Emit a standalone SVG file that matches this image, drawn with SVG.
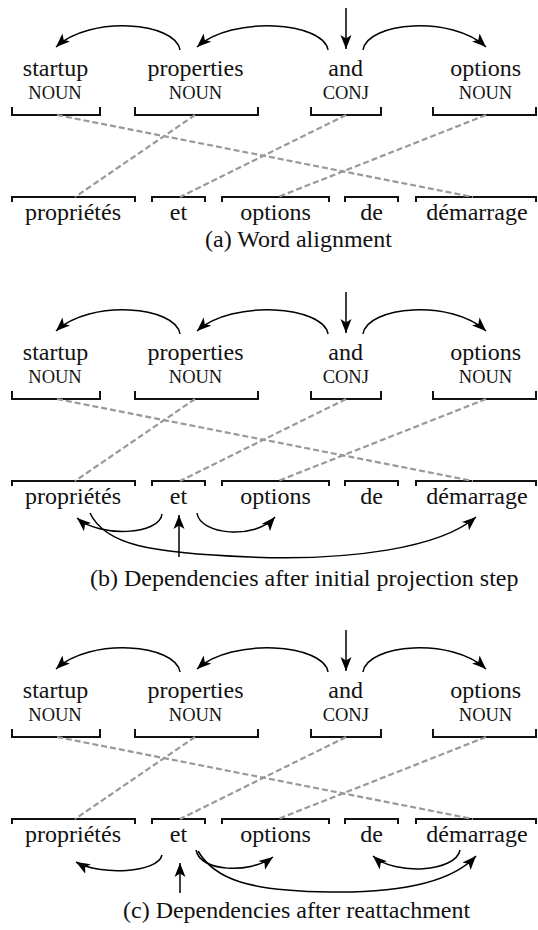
<svg xmlns="http://www.w3.org/2000/svg" width="538" height="930" viewBox="0 0 538 930" font-family="'Liberation Serif', 'Times New Roman', Times, 'DejaVu Serif', serif">
<style>
.w{font-family:'Liberation Serif','Times New Roman',Times,'DejaVu Serif',serif;font-size:24px;text-anchor:middle;fill:#111}
.t{font-size:18.5px}
.cap{font-family:'Liberation Serif','Times New Roman',Times,'DejaVu Serif',serif;font-size:24px;fill:#111}
.br{fill:none;stroke:#111;stroke-width:2}
.al{fill:none;stroke:#999;stroke-width:2.2;stroke-dasharray:6 3}
.dep{fill:none;stroke:#000;stroke-width:1.5;marker-end:url(#ah)}
</style>
<defs>
<marker id="ah" markerWidth="16" markerHeight="12" refX="14" refY="6" orient="auto" markerUnits="userSpaceOnUse">
<path d="M0,0.5 L14,6 L0,11.5 L3.5,6 z" fill="#000"/>
</marker>
</defs>

<g id="panel-a">
<g id="a-startup"><text class="w" x="55.5" y="76">startup</text><text class="w t" x="55" y="99">NOUN</text><path class="br" d="M12,107 V115 H100 V107"/></g>
<g id="a-properties"><text class="w" x="195.5" y="76">properties</text><text class="w t" x="195.5" y="99">NOUN</text><path class="br" d="M135,107 V115 H258 V107"/></g>
<g id="a-and"><text class="w" x="345.7" y="76">and</text><text class="w t" x="345.8" y="99">CONJ</text><path class="br" d="M311,107 V115 H381 V107"/></g>
<g id="a-options-en"><text class="w" x="485.7" y="76">options</text><text class="w t" x="485.5" y="99">NOUN</text><path class="br" d="M433,107 V115 H536 V107"/></g>
<g id="a-proprietes"><path class="br" d="M12,202 V197 H135 V202"/><text class="w" x="73" y="220">propriétés</text></g>
<g id="a-et"><path class="br" d="M152,202 V197 H205 V202"/><text class="w" x="178.5" y="220">et</text></g>
<g id="a-options-fr"><path class="br" d="M222,202 V197 H329 V202"/><text class="w" x="275.5" y="220">options</text></g>
<g id="a-de"><path class="br" d="M345,202 V197 H398 V202"/><text class="w" x="371.5" y="220">de</text></g>
<g id="a-demarrage"><path class="br" d="M416,202 V197 H536 V202"/><text class="w" x="477" y="220">démarrage</text></g>
<g id="a-connectors">
<path class="dep" d="M180,50 C176,22 90,15 56,47"/>
<path class="dep" d="M328,50 C324,22 232,15 197,47"/>
<path class="dep" d="M363,50 C367,22 452,15 486,47"/>
<path class="dep" d="M346,8 V49"/>
<path class="al" d="M57,115 L473,197"/>
<path class="al" d="M195,115 L75,197"/>
<path class="al" d="M346,115 L180,197"/>
<path class="al" d="M486,115 L278,197"/>
</g>
<text class="cap" x="205" y="247">(a) Word alignment</text>
</g>

<g id="panel-b">
<g transform="translate(0,284)">
<g id="b-startup"><text class="w" x="55.5" y="76">startup</text><text class="w t" x="55" y="99">NOUN</text><path class="br" d="M12,107 V115 H100 V107"/></g>
<g id="b-properties"><text class="w" x="195.5" y="76">properties</text><text class="w t" x="195.5" y="99">NOUN</text><path class="br" d="M135,107 V115 H258 V107"/></g>
<g id="b-and"><text class="w" x="345.7" y="76">and</text><text class="w t" x="345.8" y="99">CONJ</text><path class="br" d="M311,107 V115 H381 V107"/></g>
<g id="b-options-en"><text class="w" x="485.7" y="76">options</text><text class="w t" x="485.5" y="99">NOUN</text><path class="br" d="M433,107 V115 H536 V107"/></g>
<g id="b-proprietes"><path class="br" d="M12,202 V197 H135 V202"/><text class="w" x="73" y="220">propriétés</text></g>
<g id="b-et"><path class="br" d="M152,202 V197 H205 V202"/><text class="w" x="178.5" y="220">et</text></g>
<g id="b-options-fr"><path class="br" d="M222,202 V197 H329 V202"/><text class="w" x="275.5" y="220">options</text></g>
<g id="b-de"><path class="br" d="M345,202 V197 H398 V202"/><text class="w" x="371.5" y="220">de</text></g>
<g id="b-demarrage"><path class="br" d="M416,202 V197 H536 V202"/><text class="w" x="477" y="220">démarrage</text></g>
<g id="b-connectors-top">
<path class="dep" d="M180,50 C176,22 90,15 56,47"/>
<path class="dep" d="M328,50 C324,22 232,15 197,47"/>
<path class="dep" d="M363,50 C367,22 452,15 486,47"/>
<path class="dep" d="M346,8 V49"/>
<path class="al" d="M57,115 L473,197"/>
<path class="al" d="M195,115 L75,197"/>
<path class="al" d="M346,115 L180,197"/>
<path class="al" d="M486,115 L278,197"/>
</g>
</g>
<g id="b-connectors-bottom">
<path class="dep" d="M162,514 C160,535 100,538 77,518"/>
<path class="dep" d="M90,513 C105,545 150,553 250,557 C350,561 440,548 476,517"/>
<path class="dep" d="M197,513 C200,535 255,540 275,517"/>
<path class="dep" d="M179,557 V515"/>
</g>
<text class="cap" x="90" y="586">(b) Dependencies after initial projection step</text>
</g>

<g id="panel-c">
<g transform="translate(0,622)">
<g id="c-startup"><text class="w" x="55.5" y="76">startup</text><text class="w t" x="55" y="99">NOUN</text><path class="br" d="M12,107 V115 H100 V107"/></g>
<g id="c-properties"><text class="w" x="195.5" y="76">properties</text><text class="w t" x="195.5" y="99">NOUN</text><path class="br" d="M135,107 V115 H258 V107"/></g>
<g id="c-and"><text class="w" x="345.7" y="76">and</text><text class="w t" x="345.8" y="99">CONJ</text><path class="br" d="M311,107 V115 H381 V107"/></g>
<g id="c-options-en"><text class="w" x="485.7" y="76">options</text><text class="w t" x="485.5" y="99">NOUN</text><path class="br" d="M433,107 V115 H536 V107"/></g>
<g id="c-proprietes"><path class="br" d="M12,202 V197 H135 V202"/><text class="w" x="73" y="220">propriétés</text></g>
<g id="c-et"><path class="br" d="M152,202 V197 H205 V202"/><text class="w" x="178.5" y="220">et</text></g>
<g id="c-options-fr"><path class="br" d="M222,202 V197 H329 V202"/><text class="w" x="275.5" y="220">options</text></g>
<g id="c-de"><path class="br" d="M345,202 V197 H398 V202"/><text class="w" x="371.5" y="220">de</text></g>
<g id="c-demarrage"><path class="br" d="M416,202 V197 H536 V202"/><text class="w" x="477" y="220">démarrage</text></g>
<g id="c-connectors-top">
<path class="dep" d="M180,50 C176,22 90,15 56,47"/>
<path class="dep" d="M328,50 C324,22 232,15 197,47"/>
<path class="dep" d="M363,50 C367,22 452,15 486,47"/>
<path class="dep" d="M346,8 V49"/>
<path class="al" d="M57,115 L473,197"/>
<path class="al" d="M195,115 L75,197"/>
<path class="al" d="M346,115 L180,197"/>
<path class="al" d="M486,115 L278,197"/>
</g>
</g>
<g id="c-connectors-bottom">
<path class="dep" d="M162,855 C158,873 100,876 76,862"/>
<path class="dep" d="M196,850 C200,872 250,874 273,857"/>
<path class="dep" d="M198,851 C215,880 250,891 330,892 C400,893 452,882 476,856"/>
<path class="dep" d="M460,850 C456,872 395,876 373,856"/>
<path class="dep" d="M180,893 V863"/>
</g>
<text class="cap" x="123" y="918">(c) Dependencies after reattachment</text>
</g>
</svg>
